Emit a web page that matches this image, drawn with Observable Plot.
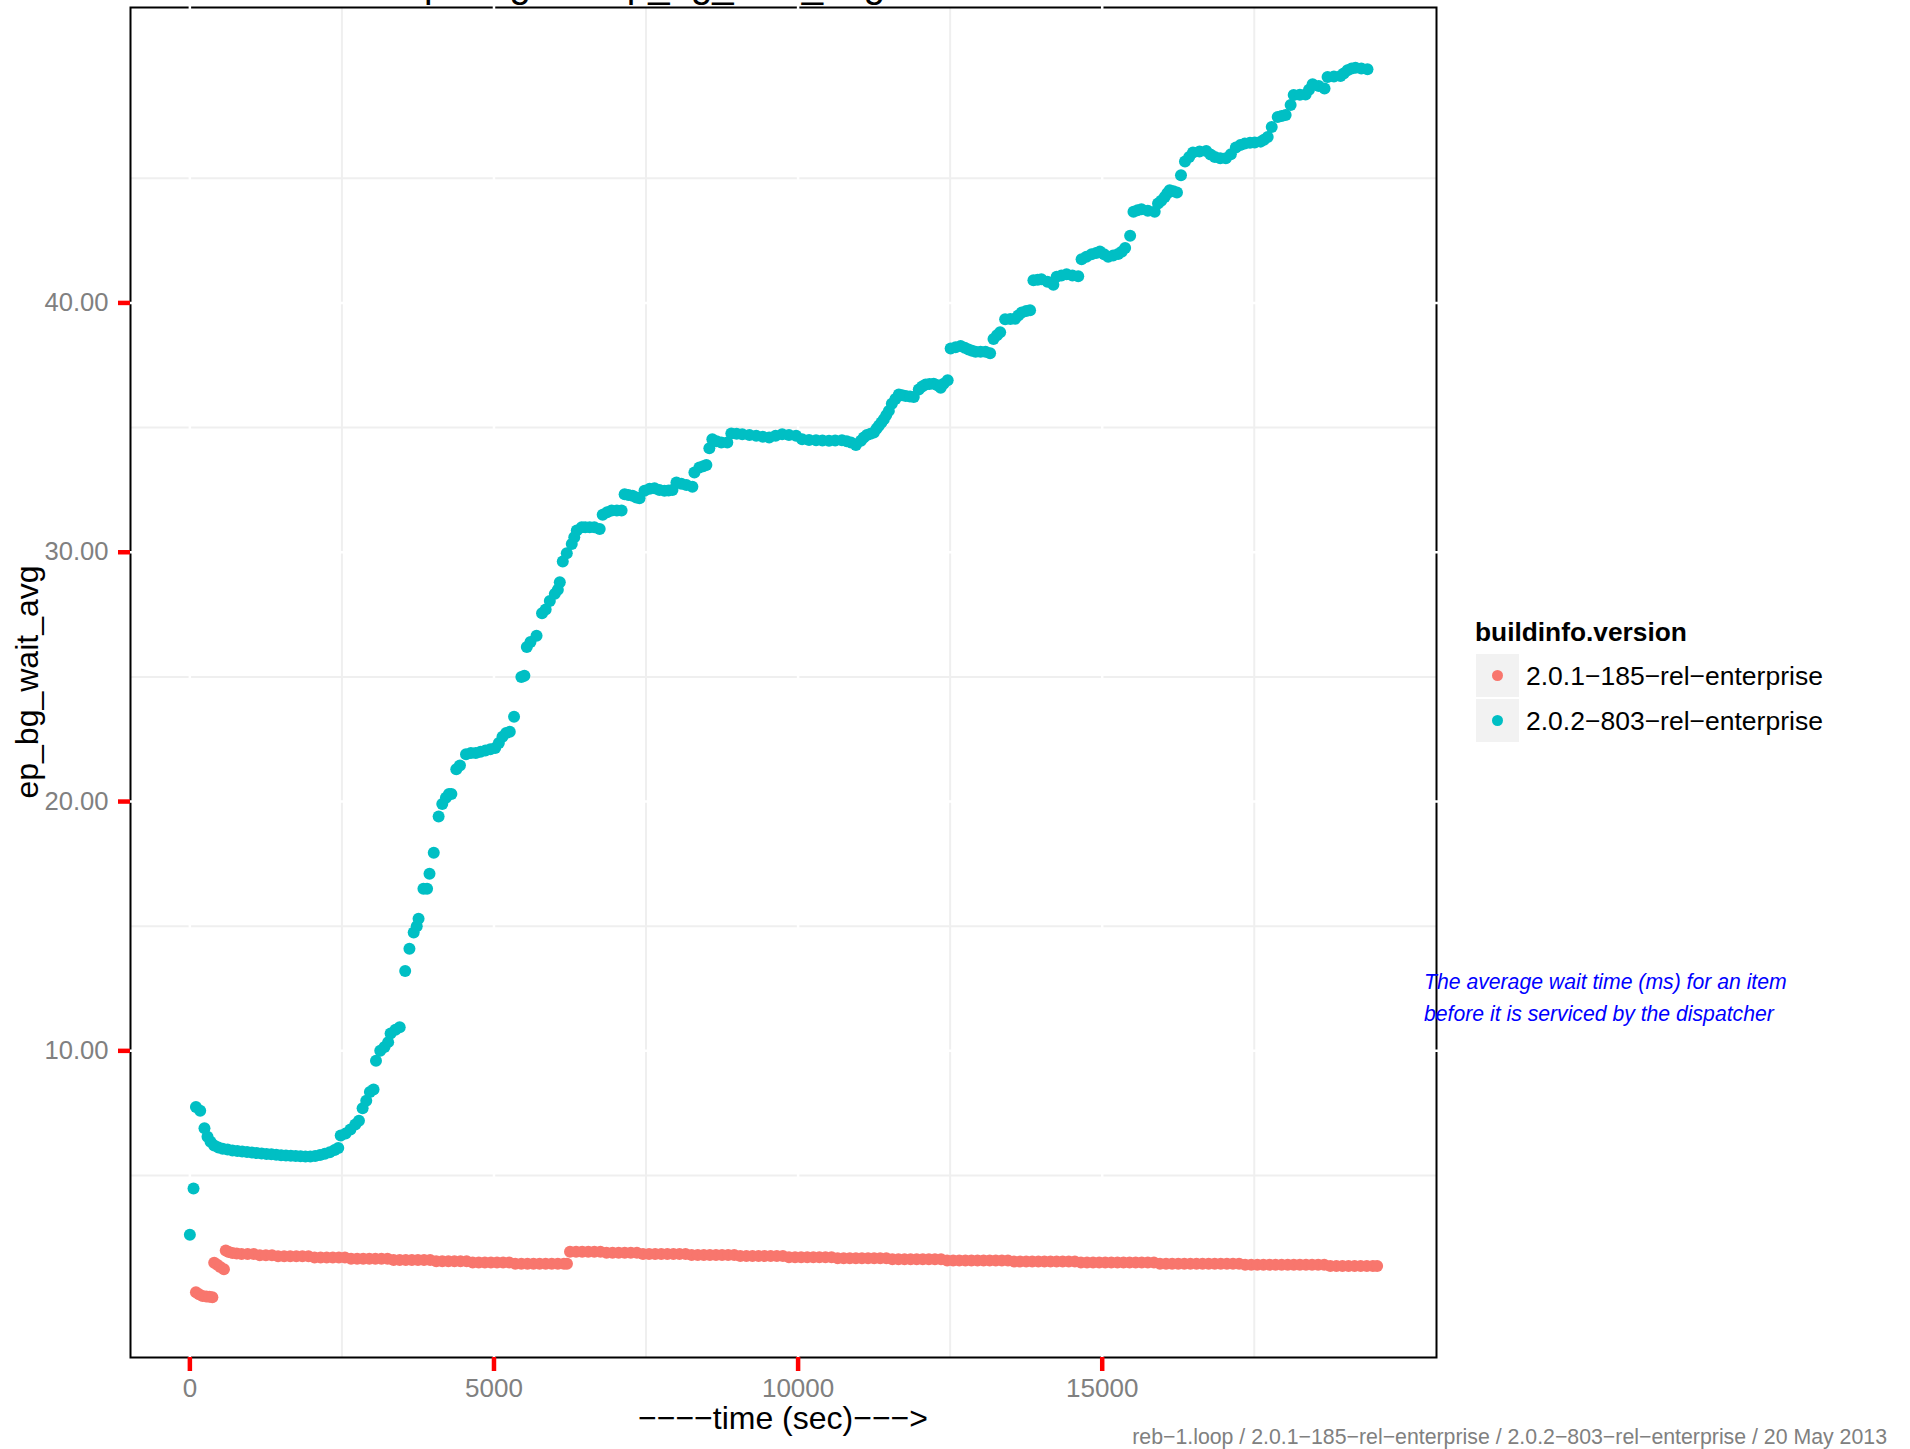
<!DOCTYPE html>
<html><head><meta charset="utf-8">
<script src="https://cdn.jsdelivr.net/npm/d3@7"></script>
<script src="https://cdn.jsdelivr.net/npm/@observablehq/plot@0.6"></script>
<style>
html,body{margin:0;padding:0;background:#fff;}
#chart svg{display:block;}
</style></head><body><div id="chart"></div>
<script>
// ---- data ----
const versions = ["2.0.1−185−rel−enterprise", "2.0.2−803−rel−enterprise"];
const colors = ["#F8766D", "#00BFC4"];
const xTicks = [0, 5000, 10000, 15000];
const yTicks = [10, 20, 30, 40];
const xMinor = [2500, 7500, 12500, 17500];
const yMinor = [5, 15, 25, 35, 45];
const titleText = "Comparing the ep_bg_wait_avg";
const xLabel = "−−−−time (sec)−−−>";
const yLabel = "ep_bg_wait_avg";
const legendTitle = "buildinfo.version";
const captionText = "reb−1.loop / 2.0.1−185−rel−enterprise / 2.0.2−803−rel−enterprise / 20 May 2013";
const noteLines = ["The average wait time (ms) for an item", "before it is serviced by the dispatcher"];

// series 2.0.1-185 : [time (sec), ep_bg_wait_avg]
const series201 = [
[100,0.32],[150,0.24],[210,0.17],[270,0.15],[320,0.14],[370,0.12],
[400,1.50],[450,1.42],[500,1.33],[560,1.24],
[590,1.99],[640,1.93],[700,1.89],[770,1.87],[850,1.85],[950,1.85],[1050,1.85],
[1150,1.80],[1250,1.80],[1350,1.80],
[1450,1.76],[1550,1.76],[1650,1.76],[1750,1.76],[1850,1.76],[1950,1.76],
[2050,1.71],[2150,1.71],[2250,1.71],[2350,1.71],[2450,1.71],[2550,1.71],
[2650,1.66],[2750,1.66],[2850,1.66],[2950,1.66],[3050,1.66],[3150,1.66],[3250,1.66],
[3350,1.61],[3450,1.61],[3550,1.61],[3650,1.61],[3750,1.61],[3850,1.61],[3950,1.61],
[4050,1.56],[4150,1.56],[4250,1.56],[4350,1.56],[4450,1.56],[4550,1.56],
[4650,1.51],[4750,1.51],[4850,1.51],[4950,1.51],[5050,1.51],[5150,1.51],[5250,1.51],
[5350,1.46],[5450,1.46],[5550,1.46],[5650,1.46],[5750,1.46],[5850,1.46],[5950,1.46],[6050,1.46],[6150,1.46],[6200,1.46],
[6250,1.94],[6350,1.94],[6450,1.94],[6550,1.94],[6650,1.94],[6750,1.94],
[6850,1.90],[6950,1.90],[7050,1.90],[7150,1.90],[7250,1.90],[7350,1.90],
[7450,1.85],[7550,1.85],[7650,1.85],[7750,1.85],[7850,1.85],[7950,1.85],[8050,1.85],[8150,1.85],
[8250,1.81],[8350,1.81],[8450,1.81],[8550,1.81],[8650,1.81],[8750,1.81],[8850,1.81],[8950,1.81],
[9050,1.77],[9150,1.77],[9250,1.77],[9350,1.77],[9450,1.77],[9550,1.77],[9650,1.77],[9750,1.77],
[9850,1.72],[9950,1.72],[10050,1.72],[10150,1.72],[10250,1.72],[10350,1.72],[10450,1.72],[10550,1.72],
[10650,1.68],[10750,1.68],[10850,1.68],[10950,1.68],[11050,1.68],[11150,1.68],[11250,1.68],[11350,1.68],[11450,1.68],
[11550,1.64],[11650,1.64],[11750,1.64],[11850,1.64],[11950,1.64],[12050,1.64],[12150,1.64],[12250,1.64],[12350,1.64],
[12450,1.59],[12550,1.59],[12650,1.59],[12750,1.59],[12850,1.59],[12950,1.59],[13050,1.59],[13150,1.59],[13250,1.59],[13350,1.59],[13450,1.59],
[13550,1.55],[13650,1.55],[13750,1.55],[13850,1.55],[13950,1.55],[14050,1.55],[14150,1.55],[14250,1.55],[14350,1.55],[14450,1.55],[14550,1.55],
[14650,1.51],[14750,1.51],[14850,1.51],[14950,1.51],[15050,1.51],[15150,1.51],[15250,1.51],[15350,1.51],[15450,1.51],[15550,1.51],[15650,1.51],[15750,1.51],[15850,1.51],
[15950,1.46],[16050,1.46],[16150,1.46],[16250,1.46],[16350,1.46],[16450,1.46],[16550,1.46],[16650,1.46],[16750,1.46],[16850,1.46],[16950,1.46],[17050,1.46],[17150,1.46],[17250,1.46],
[17350,1.42],[17450,1.42],[17550,1.42],[17650,1.42],[17750,1.42],[17850,1.42],[17950,1.42],[18050,1.42],[18150,1.42],[18250,1.42],[18350,1.42],[18450,1.42],[18550,1.42],[18650,1.42],
[18750,1.37],[18850,1.37],[18950,1.37],[19050,1.37],[19150,1.37],[19250,1.37],[19350,1.37],[19450,1.37],[19520,1.37]
];

// series 2.0.2-803 : [time (sec), ep_bg_wait_avg]
const series202 = [
[0,2.62],[60,4.48],[100,7.75],[170,7.6],[240,6.9],[290,6.55],[340,6.35],[400,6.2],[470,6.12],[540,6.07],
[620,6.04],[700,6.0],[780,5.98],[860,5.96],[940,5.94],[1020,5.92],[1100,5.9],[1180,5.88],[1260,5.86],[1340,5.85],
[1420,5.83],[1500,5.81],[1580,5.8],[1660,5.79],[1740,5.78],[1820,5.77],[1900,5.76],[1980,5.76],[2060,5.78],[2140,5.82],
[2220,5.87],[2300,5.93],[2380,6.02],[2440,6.1],[2480,6.6],[2560,6.68],[2640,6.85],[2720,7.05],[2780,7.2],[2840,7.7],
[2900,8.0],[2960,8.35],[3020,8.45],[3060,9.6],[3130,10.0],[3200,10.15],[3260,10.35],[3300,10.7],[3380,10.85],[3450,10.95],
[3540,13.2],[3610,14.1],[3680,14.75],[3730,15.0],[3760,15.3],[3840,16.5],[3900,16.5],[3940,17.1],[4010,17.95],[4090,19.4],
[4150,19.9],[4210,20.15],[4260,20.3],[4300,20.3],[4380,21.3],[4440,21.45],[4540,21.9],[4620,21.95],[4700,21.95],[4780,22.0],
[4860,22.05],[4940,22.1],[5020,22.15],[5080,22.35],[5140,22.6],[5200,22.75],[5260,22.8],[5330,23.4],[5450,25.0],[5500,25.05],
[5540,26.2],[5600,26.4],[5700,26.65],[5790,27.55],[5850,27.7],[5918,28.04],[6000,28.33],[6050,28.5],[6082,28.8],[6131,29.63],
[6197,29.96],[6279,30.33],[6320,30.6],[6361,30.87],[6443,31.0],[6500,31.0],[6574,31.0],[6650,31.0],[6738,30.93],[6787,31.5],
[6860,31.6],[6934,31.67],[7020,31.67],[7098,31.67],[7148,32.33],[7210,32.3],[7279,32.27],[7340,32.2],[7393,32.17],[7475,32.47],
[7560,32.55],[7639,32.57],[7720,32.5],[7803,32.47],[7870,32.48],[7934,32.5],[8000,32.8],[8080,32.75],[8164,32.7],[8262,32.63],
[8295,33.2],[8377,33.4],[8440,33.45],[8492,33.5],[8541,34.17],[8590,34.53],[8660,34.45],[8738,34.4],[8836,34.4],[8902,34.76],
[8990,34.75],[9082,34.73],[9200,34.7],[9311,34.67],[9420,34.63],[9525,34.6],[9630,34.67],[9738,34.73],[9850,34.7],[9967,34.67],
[10066,34.53],[10180,34.5],[10295,34.49],[10400,34.48],[10508,34.47],[10610,34.48],[10721,34.49],[10800,34.45],[10869,34.4],[10951,34.3],
[11033,34.47],[11080,34.6],[11131,34.7],[11190,34.75],[11246,34.8],[11290,34.95],[11328,35.07],[11370,35.2],[11410,35.33],[11450,35.5],
[11492,35.67],[11541,35.96],[11600,36.15],[11656,36.33],[11710,36.3],[11770,36.27],[11840,36.25],[11902,36.23],[11984,36.53],[12040,36.65],
[12098,36.73],[12160,36.75],[12230,36.76],[12290,36.7],[12344,36.6],[12393,36.76],[12459,36.9],[12508,38.17],[12590,38.22],[12672,38.27],
[12740,38.2],[12803,38.13],[12860,38.08],[12918,38.04],[13000,38.04],[13082,38.04],[13157,37.98],[13213,38.55],[13270,38.7],[13322,38.82],
[13404,39.35],[13490,39.36],[13568,39.37],[13620,39.5],[13677,39.62],[13750,39.68],[13814,39.71],[13869,40.91],[13940,40.93],[14000,40.95],
[14100,40.85],[14197,40.73],[14251,41.05],[14330,41.1],[14415,41.15],[14510,41.1],[14606,41.07],[14661,41.75],[14740,41.85],[14825,41.95],
[14900,42.0],[14962,42.06],[15030,41.95],[15098,41.85],[15180,41.9],[15262,41.96],[15320,42.05],[15377,42.2],[15459,42.69],[15514,43.66],
[15580,43.72],[15645,43.76],[15750,43.7],[15863,43.66],[15918,43.99],[15970,44.1],[16027,44.25],[16070,44.4],[16109,44.52],[16170,44.48],
[16229,44.43],[16295,45.12],[16361,45.67],[16430,45.85],[16492,46.03],[16600,46.07],[16710,46.09],[16780,45.95],[16852,45.85],[16940,45.8],
[17033,45.8],[17115,45.96],[17197,46.23],[17270,46.33],[17344,46.39],[17430,46.42],[17508,46.43],[17606,46.47],[17660,46.55],[17721,46.66],
[17787,47.06],[17885,47.46],[17950,47.5],[18016,47.54],[18098,47.94],[18148,48.34],[18250,48.35],[18344,48.36],[18400,48.55],[18459,48.77],
[18560,48.7],[18655,48.6],[18705,49.06],[18810,49.08],[18918,49.1],[18970,49.2],[19033,49.33],[19100,49.4],[19164,49.43],[19260,49.4],
[19361,49.37]
];

// ---- table for Plot ----
const rows = [
  ...series201.map(([t, v]) => ({time: t, value: v, version: versions[0]})),
  ...series202.map(([t, v]) => ({time: t, value: v, version: versions[1]}))
];

const W = 1910, H = 1449, ML = 130, MR = 474, MT = 7, MB = 92;
const FONT = "'Liberation Sans', Arial, Helvetica, sans-serif";

const plot = Plot.plot({
  width: W, height: H,
  marginLeft: ML, marginRight: MR, marginTop: MT, marginBottom: MB,
  style: {fontFamily: FONT, background: "white", color: "black"},
  x: {domain: [-976, 20496]},
  y: {domain: [-2.3, 51.85]},
  color: {domain: versions, range: colors},
  marks: [
    Plot.gridX(xMinor, {stroke: "#EFEFEF", strokeOpacity: 1, strokeWidth: 2}),
    Plot.gridY(yMinor, {stroke: "#EFEFEF", strokeOpacity: 1, strokeWidth: 2}),
    Plot.frame({stroke: "black", strokeWidth: 2}),
    Plot.gridX(xTicks, {stroke: "white", strokeOpacity: 1, strokeWidth: 2.5, insetTop: -2, insetBottom: -2}),
    Plot.gridY(yTicks, {stroke: "white", strokeOpacity: 1, strokeWidth: 2.5, insetLeft: -2, insetRight: -2}),
    Plot.dot(rows, {x: "time", y: "value", fill: "version", r: 6}),
    Plot.axisX(xTicks, {tickSize: 14, stroke: "#FF0000", strokeWidth: 4.5, fill: "#808080", fontSize: 26,
      tickPadding: 7, tickFormat: d3.format("d"), label: null}),
    Plot.axisY(yTicks, {tickSize: 12, stroke: "#FF0000", strokeWidth: 4.5, fill: "#808080", fontSize: 25.6,
      tickPadding: 10, tickFormat: d => d.toFixed(2), label: null})
  ]
});

document.getElementById("chart").appendChild(plot);

// ---- titles, legend, caption, note ----
const svg = d3.select(plot);
const colorOf = plot.scale("color");
const g = svg.append("g").attr("font-family", FONT).attr("text-anchor", "start");

g.append("text").attr("x", 343).attr("y", -3).attr("text-anchor", "start")
  .attr("font-size", 38.4).attr("fill", "black").text(titleText);

g.append("text").attr("x", (ML + (W - MR)) / 2).attr("y", 1429).attr("text-anchor", "middle")
  .attr("font-size", 32).attr("fill", "black").text(xLabel);

g.append("text").attr("transform", `translate(38,${(MT + (H - MB)) / 2}) rotate(-90)`)
  .attr("text-anchor", "middle").attr("font-size", 32).attr("fill", "black").text(yLabel);

g.append("text").attr("x", 1887).attr("y", 1444).attr("text-anchor", "end")
  .attr("font-size", 21.3).attr("fill", "#808080").text(captionText);

noteLines.forEach((line, i) => {
  g.append("text").attr("x", 1424).attr("y", 989 + i * 32).attr("text-anchor", "start")
    .attr("font-size", 21.2).attr("font-style", "italic").attr("fill", "#0000FF").text(line);
});

// legend
g.append("text").attr("x", 1475).attr("y", 641).attr("text-anchor", "start")
  .attr("font-size", 26.3).attr("font-weight", "bold").attr("fill", "black").text(legendTitle);
versions.forEach((v, i) => {
  const y0 = 654 + i * 45;
  g.append("rect").attr("x", 1476).attr("y", y0).attr("width", 43).attr("height", 43).attr("fill", "#F2F2F2");
  g.append("circle").attr("cx", 1497.5).attr("cy", y0 + 21.5).attr("r", 5.5).attr("fill", colorOf.apply(v));
  g.append("text").attr("x", 1526).attr("y", y0 + 31).attr("text-anchor", "start")
    .attr("font-size", 26.5).attr("fill", "black").text(v);
});
</script>
</body></html>
